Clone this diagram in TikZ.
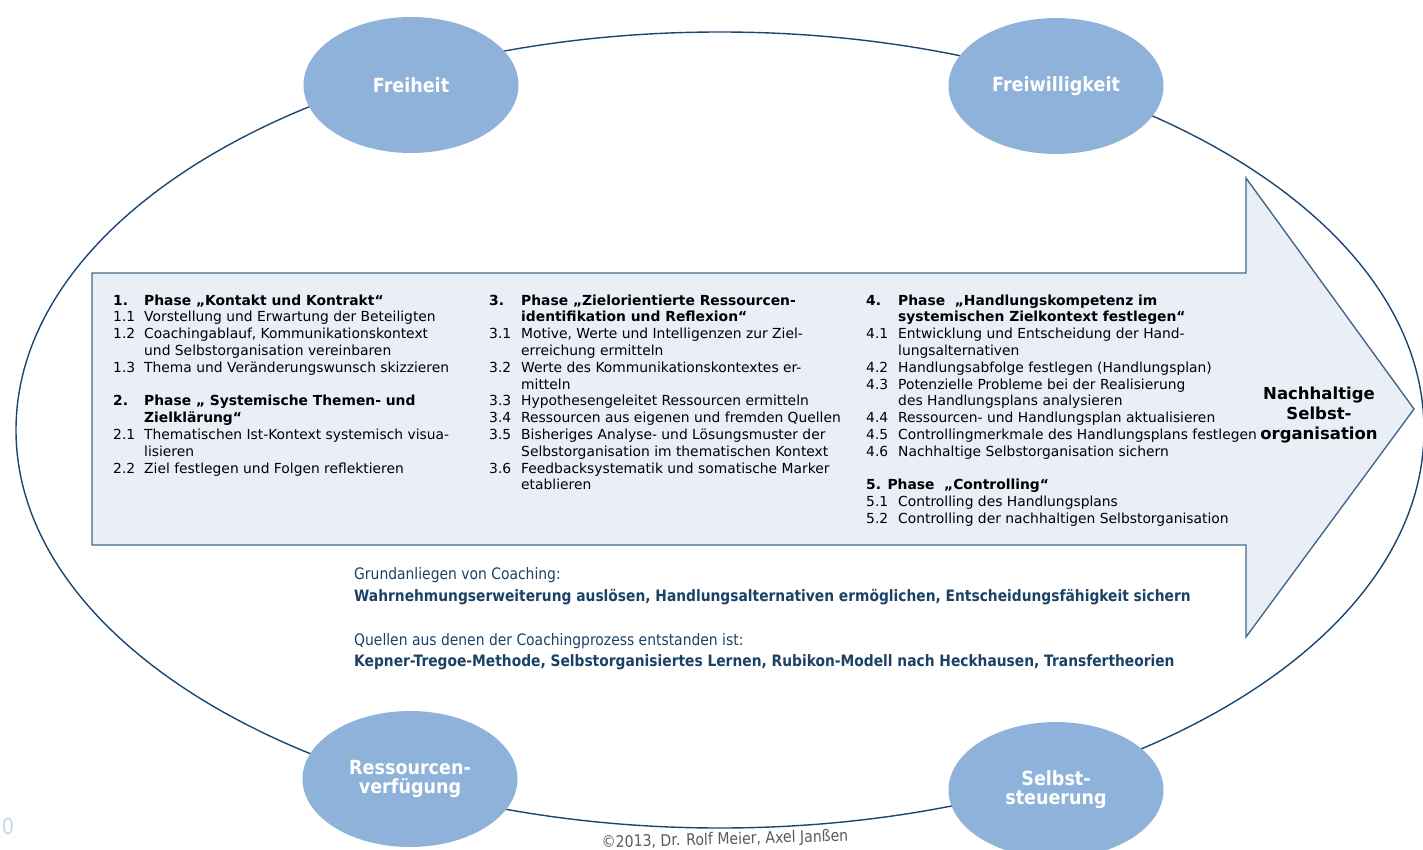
\documentclass[tikz,border=0pt]{standalone}
\usepackage{fontspec}
\setmainfont{DejaVu Sans}
\newfontfamily\tahoma[FakeStretch=0.88]{DejaVu Sans}
\newfontfamily\cfont[FakeStretch=0.9]{DejaVu Sans}
\usetikzlibrary{shapes.geometric}
\definecolor{circfill}{HTML}{8FB2DA}
\definecolor{arrowfill}{HTML}{E9EEF7}
\definecolor{arrowline}{HTML}{45698C}
\definecolor{ellline}{HTML}{1B4670}
\definecolor{navytext}{HTML}{1B4266}
\definecolor{graytext}{HTML}{5A5A5A}
\definecolor{slidenum}{HTML}{C6D6EC}
\begin{document}
\begin{tikzpicture}[x=1pt,y=-1pt,
  circ/.style={ellipse, fill=circfill, minimum width=215pt, minimum height=136pt,
    inner sep=0pt, text=white, align=center,
    font=\cfont\bfseries\fontsize{19.5}{19}\selectfont},
  col/.style={inner sep=0pt, anchor=base west, font=\fontsize{13.85}{16.8}\selectfont},
  note/.style={inner sep=0pt, anchor=base west, text=navytext,
    font=\tahoma\fontsize{15.8}{18}\selectfont},
  notebold/.style={note, font=\tahoma\bfseries\fontsize{15.7}{18}\selectfont}]
\clip (0,0) rectangle (1423,850);
% big ellipse
\draw[ellline, line width=1.4pt] (720,430) ellipse [x radius=704pt, y radius=398pt];
% arrow
\draw[arrowline, fill=arrowfill, line width=1.4pt, line join=miter]
  (92,273) -- (1246,273) -- (1246,178) -- (1414,409) -- (1246,637) -- (1246,545) -- (92,545) -- cycle;
% circles
\node[circ] (freiheit) at (411,85) {Freiheit};
\node[circ] (freiwillig) at (1056,86) {Freiwilligkeit};
\node[circ] (ressourcen) at (410,779) {Ressourcen-\\verfügung};
\node[circ] (selbst) at (1056,790) {Selbst-\\steuerung};
% columns
\node[col] (c1) at (113,305) {\begin{tabular}[t]{@{}p{31pt}@{}l@{}}
\textbf{1.} & \textbf{Phase „Kontakt und Kontrakt“}\\
1.1 & Vorstellung und Erwartung der Beteiligten\\
1.2 & Coachingablauf, Kommunikationskontext\\
 & und Selbstorganisation vereinbaren\\
1.3 & Thema und Veränderungswunsch skizzieren\\
 & \\
\textbf{2.} & \textbf{Phase „ Systemische Themen- und}\\
 & \textbf{Zielklärung“}\\
2.1 & Thematischen Ist-Kontext systemisch visua-\\
 & lisieren\\
2.2 & Ziel festlegen und Folgen reflektieren
\end{tabular}};
\node[col] (c2) at (489,305) {\begin{tabular}[t]{@{}p{32pt}@{}l@{}}
\textbf{3.} & \textbf{Phase „Zielorientierte Ressourcen-}\\
 & \textbf{identifikation und Reflexion“}\\
3.1 & Motive, Werte und Intelligenzen zur Ziel-\\
 & erreichung ermitteln\\
3.2 & Werte des Kommunikationskontextes er-\\
 & mitteln\\
3.3 & Hypothesengeleitet Ressourcen ermitteln\\
3.4 & Ressourcen aus eigenen und fremden Quellen\\
3.5 & Bisheriges Analyse- und Lösungsmuster der\\
 & Selbstorganisation im thematischen Kontext\\
3.6 & Feedbacksystematik und somatische Marker\\
 & etablieren
\end{tabular}};
\node[col] (c3) at (866,305) {\begin{tabular}[t]{@{}p{32pt}@{}l@{}}
\textbf{4.} & \textbf{Phase \ „Handlungskompetenz im}\\
 & \textbf{systemischen Zielkontext festlegen“}\\
4.1 & Entwicklung und Entscheidung der Hand-\\
 & lungsalternativen\\
4.2 & Handlungsabfolge festlegen (Handlungsplan)\\
4.3 & Potenzielle Probleme bei der Realisierung\\
 & des Handlungsplans analysieren\\
4.4 & Ressourcen- und Handlungsplan aktualisieren\\
4.5 & Controllingmerkmale des Handlungsplans festlegen\\
4.6 & Nachhaltige Selbstorganisation sichern\\
 & \\
\multicolumn{2}{@{}l@{}}{\textbf{5. Phase \ „Controlling“}}\\
5.1 & Controlling des Handlungsplans\\
5.2 & Controlling der nachhaltigen Selbstorganisation
\end{tabular}};
\node[inner sep=0pt, align=center, font=\bfseries\fontsize{16.5}{20}\selectfont]
  (goal) at (1319,415) {Nachhaltige\\Selbst-\\organisation};
% notes
\node[note] (g1) at (354,579) {Grundanliegen von Coaching:};
\node[notebold] (g2) at (354,601)
  {Wahrnehmungserweiterung auslösen, Handlungsalternativen ermöglichen, Entscheidungsfähigkeit sichern};
\node[note] (q1) at (354,645) {Quellen aus denen der Coachingprozess entstanden ist:};
\node[notebold] (q2) at (354,666)
  {Kepner-Tregoe-Methode, Selbstorganisiertes Lernen, Rubikon-Modell nach Heckhausen, Transfertheorien};
\node[inner sep=0pt, text=graytext, rotate=1.5, font=\tahoma\fontsize{16}{18}\selectfont]
  (copy) at (725,840) {©2013, Dr. Rolf Meier, Axel Janßen};
\node[inner sep=0pt, text=slidenum, font=\tahoma\fontsize{22}{24}\selectfont] (num) at (8,826) {0};
\end{tikzpicture}
\end{document}
